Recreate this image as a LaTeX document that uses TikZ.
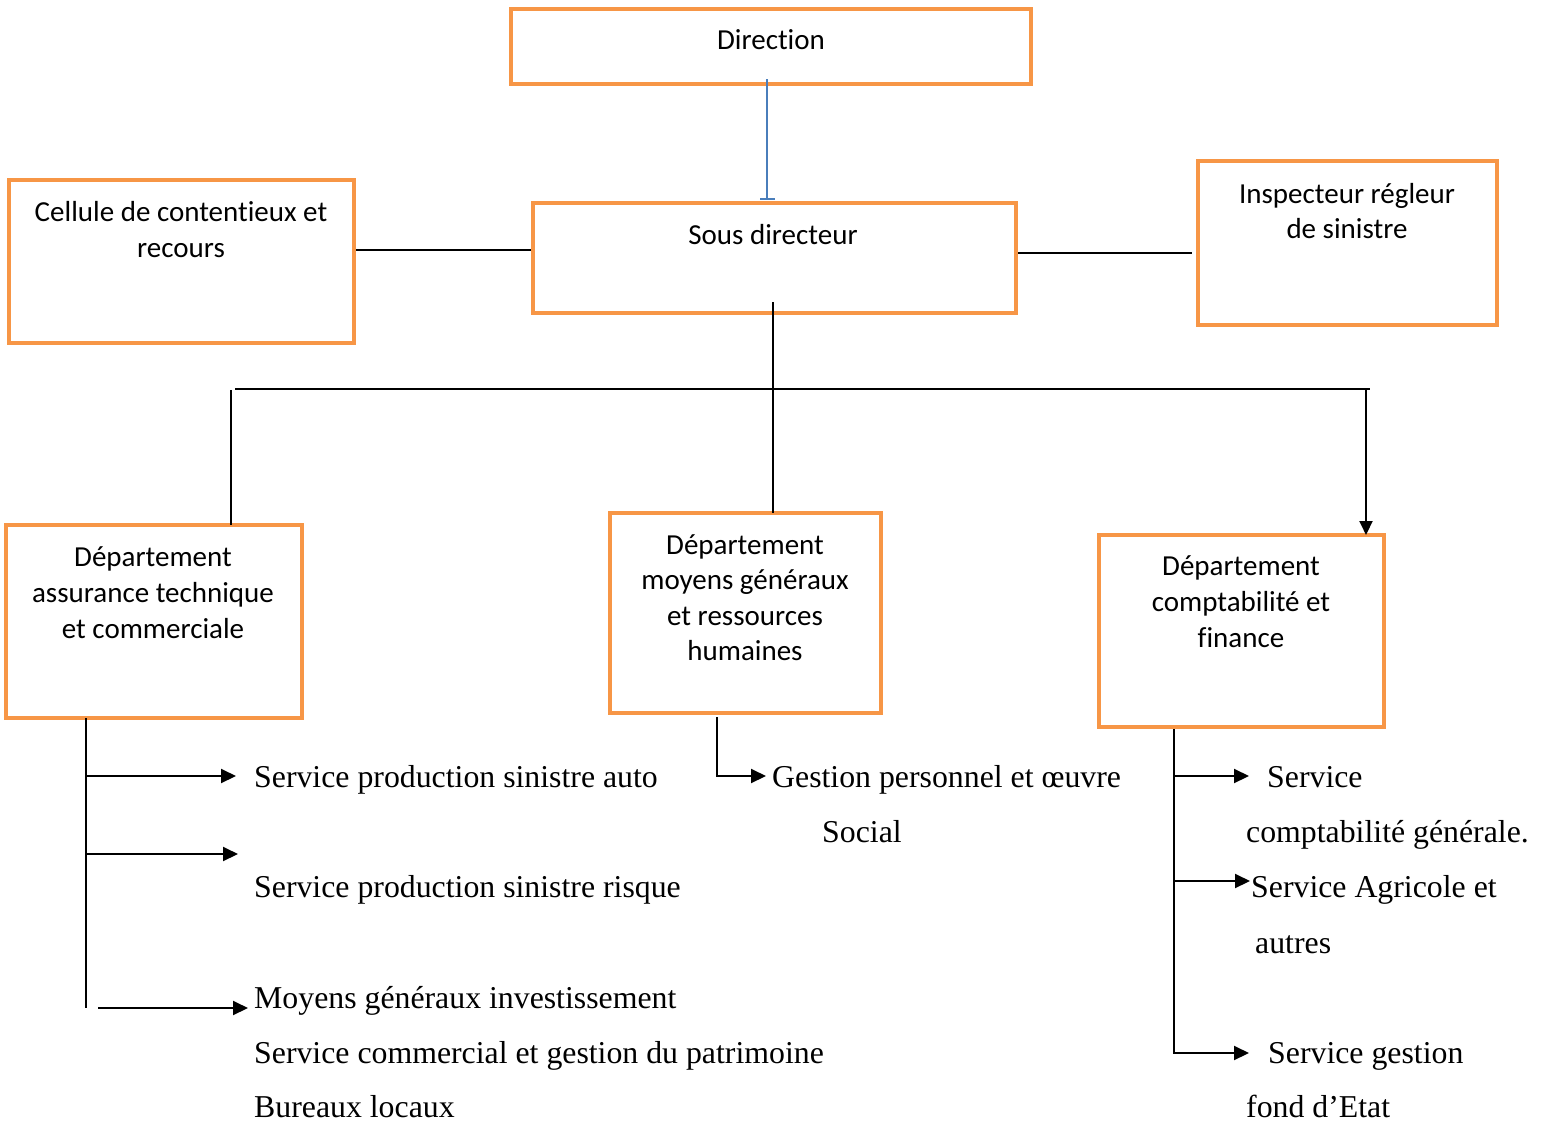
\documentclass[tikz,border=0pt]{standalone}
\usepackage{fontspec}
\setmainfont{Liberation Serif}
\newfontfamily\boxfont[Ligatures={NoCommon,NoContextual,NoRequired},RawFeature={-clig}]{Carlito}
\usetikzlibrary{arrows.meta}
\definecolor{orgorange}{HTML}{F79646}
\definecolor{linkblue}{HTML}{4A7EBB}
\begin{document}
\begin{tikzpicture}[x=1pt,y=-1pt,
  obox/.style={draw=orgorange, line width=4pt, rectangle, inner sep=0pt, outer sep=0pt},
  btext/.style={anchor=base, inner sep=0pt, font=\boxfont\fontsize{29}{35}\selectfont},
  stext/.style={anchor=base west, inner sep=0pt, font=\fontsize{31.8}{38}\selectfont},
  link/.style={line width=2pt, black},
  arr/.style={link, -{Triangle[length=15pt,width=14pt]}}]
\useasboundingbox (0,0) rectangle (1547,1124);

% boxes
\node[obox, minimum width=520pt, minimum height=75pt]  (dir)  at (771,46.5)   {};
\node[obox, minimum width=483pt, minimum height=110pt] (sous) at (774.5,258)  {};
\node[obox, minimum width=345pt, minimum height=163pt] (cell) at (181.5,261.5) {};
\node[obox, minimum width=299pt, minimum height=164pt] (insp) at (1347.5,243) {};
\node[obox, minimum width=296pt, minimum height=193pt] (dat)  at (154,621.5)   {};
\node[obox, minimum width=271pt, minimum height=200pt] (dmg)  at (745.5,613)   {};
\node[obox, minimum width=285pt, minimum height=192pt] (dcf)  at (1241.5,631)  {};

% box labels (t and i kept apart)
\node[btext] (tdir) at (771,49) {Direct\kern0pt ion};
\node[btext] (tsous) at (773,244) {Sous directeur};
\node[btext] (tcell1) at (181,221) {Cellule de content\kern0pt ieux et};
\node[btext] (tcell2) at (181,257) {recours};
\node[btext] (tinsp1) at (1347,203) {Inspecteur régleur};
\node[btext] (tinsp2) at (1347,238) {de sinistre};
\node[btext] (tdat1) at (153,566) {Département};
\node[btext] (tdat2) at (153,602) {assurance technique};
\node[btext] (tdat3) at (153,638) {et commerciale};
\node[btext] (tdmg1) at (745,554) {Département};
\node[btext] (tdmg2) at (745,589) {moyens généraux};
\node[btext] (tdmg3) at (745,625) {et ressources};
\node[btext] (tdmg4) at (745,660) {humaines};
\node[btext] (tdcf1) at (1241,575) {Département};
\node[btext] (tdcf2) at (1241,611) {comptabilité et};
\node[btext] (tdcf3) at (1241,647) {finance};

% service labels
\node[stext] (s1) at (254,787) {Service production sinistre auto};
\node[stext] (s2) at (254,897) {Service production sinistre risque};
\node[stext] (s3) at (254,1008) {Moyens généraux investissement};
\node[stext] (s4) at (254,1063) {Service commercial et gestion du patrimoine};
\node[stext] (s5) at (254,1117) {Bureaux locaux};
\node[stext] (m1) at (772,787) {Gestion personnel et œuvre};
\node[stext] (m2) at (822,842) {Social};
\node[stext] (r1) at (1267,787) {Service};
\node[stext] (r2) at (1246,842) {comptabilité générale.};
\node[stext] (r3) at (1251,897) {Service Agricole et};
\node[stext] (r4) at (1255,953) {autres};
\node[stext] (r5) at (1268,1063) {Service gestion};
\node[stext] (r6) at (1246,1117) {fond d’Etat};

% direction to sous-directeur
\draw[line width=2pt, linkblue, -{Bar[width=15pt,line width=2pt]}]
  ([xshift=-4pt,yshift=5pt]dir.south) -- ([xshift=-7.5pt,yshift=3pt]sous.north);

% staff units
\draw[link] ([yshift=11.5pt]cell.east) ++(2,0) -- ([yshift=8pt,xshift=-2pt]sous.west);
\draw[link] ([yshift=5pt,xshift=2pt]sous.east) -- ([yshift=-10pt,xshift=-6pt]insp.west);

% bus to departments
\coordinate (busL) at (235,389);
\coordinate (busR) at (1370,389);
\coordinate (legL) at (231,390);
\coordinate (legR) at (1366,389);
\draw[link] ([xshift=-1.5pt,yshift=11pt]sous.south) -- ([xshift=-1.5pt]sous.south |- dmg.north);
\draw[link] (busL) -- (busR);
\draw[link] (legL) -- (legL |- dat.north);
\draw[link, -{Triangle[length=14pt,width=13pt]}] (legR) -- (legR |- dcf.north);

% left branch
\coordinate (lt) at (86,718);
\coordinate (lb) at (86,1008);
\draw[link] (lt) -- (lb);
\draw[arr] (86,776) -- ([xshift=-18pt]s1.west |- 0,776);
\draw[arr] (86,854) -- ([xshift=-16pt]s2.west |- 0,854);
\draw[arr] (98,1008) -- ([xshift=-6pt]s3.west |- 0,1008);

% middle branch
\coordinate (mt) at (717,717);
\draw[arr] (mt) |- ([xshift=-6pt]m1.west |- 0,776);

% right branch
\coordinate (rt) at (1174,729);
\draw[link] (rt) -- (1174,1053);
\draw[arr] (1174,776) -- ([xshift=-18pt]r1.west |- 0,776);
\draw[arr] (1174,881) -- ([xshift=-1pt]r3.west |- 0,881);
\draw[arr] (rt) |- ([xshift=-19pt]r5.west |- 0,1053);
\end{tikzpicture}
\end{document}
